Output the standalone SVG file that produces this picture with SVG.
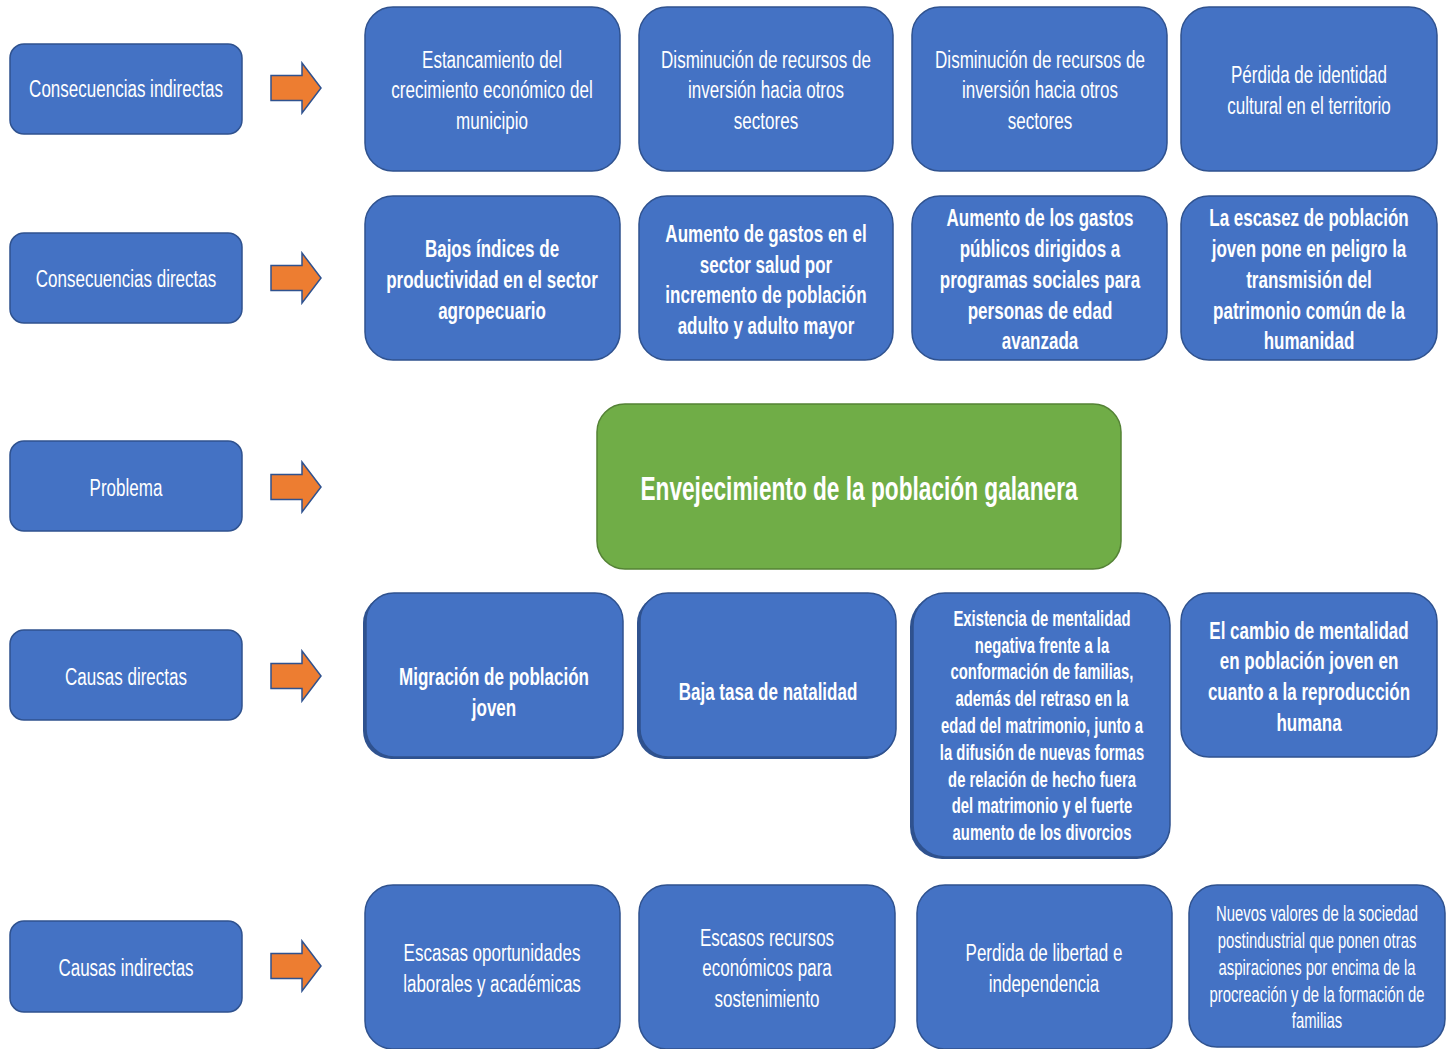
<svg xmlns="http://www.w3.org/2000/svg" width="1449" height="1049" viewBox="0 0 1449 1049">
<style>
.b{fill:#4472C4;stroke:#2F528F;stroke-width:1.5}
.sh{fill:#2F528F}
.g{fill:#70AD47;stroke:#548235;stroke-width:1.5}
.arr{fill:#ED7D31;stroke:#2F528F;stroke-width:1.5}
text{font-family:"Liberation Sans",Arial,sans-serif;fill:#fff;text-anchor:middle}
.lab{font-size:24.3px}
.n{font-size:24.3px}
.nb{font-size:24.3px;font-weight:bold}
.sb{font-size:21.2px;font-weight:bold}
.s{font-size:21.2px}
.t{font-size:32.4px;font-weight:bold}
</style>
<rect width="1449" height="1049" fill="#fff"/>
<g id="connectors">
<path class="arr" d="M271,75.5H302V63L321,88L302,113V100.5H271Z"/>
<path class="arr" d="M271,265.5H302V253L321,278L302,303V290.5H271Z"/>
<path class="arr" d="M271,474.5H302V462L321,487L302,512V499.5H271Z"/>
<path class="arr" d="M271,663.5H302V651L321,676L302,701V688.5H271Z"/>
<path class="arr" d="M271,953.5H302V941L321,966L302,991V978.5H271Z"/>
</g>
<g id="lab-ci"><rect class="b" x="10" y="44" width="232" height="90" rx="14"/><g transform="translate(126,0) scale(0.7,1)"><text class="lab" x="0" y="97.5">Consecuencias indirectas</text></g></g>
<g id="lab-cd"><rect class="b" x="10" y="233" width="232" height="90" rx="14"/><g transform="translate(126,0) scale(0.7,1)"><text class="lab" x="0" y="287.5">Consecuencias directas</text></g></g>
<g id="lab-p"><rect class="b" x="10" y="441" width="232" height="90" rx="14"/><g transform="translate(126,0) scale(0.7,1)"><text class="lab" x="0" y="496.5">Problema</text></g></g>
<g id="lab-cad"><rect class="b" x="10" y="630" width="232" height="90" rx="14"/><g transform="translate(126,0) scale(0.7,1)"><text class="lab" x="0" y="685.5">Causas directas</text></g></g>
<g id="lab-cai"><rect class="b" x="10" y="921" width="232" height="91" rx="14"/><g transform="translate(126,0) scale(0.7,1)"><text class="lab" x="0" y="976.5">Causas indirectas</text></g></g>

<g id="ci1"><rect class="b" x="365" y="7" width="255" height="164" rx="28"/><g transform="translate(492,0) scale(0.7,1)"><text class="n" x="0" y="68.5">Estancamiento del</text><text class="n" x="0" y="98.5">crecimiento económico del</text><text class="n" x="0" y="129.5">municipio</text></g></g>
<g id="ci2"><rect class="b" x="639" y="7" width="254" height="164" rx="28"/><g transform="translate(766,0) scale(0.7,1)"><text class="n" x="0" y="68.5">Disminución de recursos de</text><text class="n" x="0" y="98.5">inversión hacia otros</text><text class="n" x="0" y="129.5">sectores</text></g></g>
<g id="ci3"><rect class="b" x="912" y="7" width="255" height="164" rx="28"/><g transform="translate(1040,0) scale(0.7,1)"><text class="n" x="0" y="68.5">Disminución de recursos de</text><text class="n" x="0" y="98.5">inversión hacia otros</text><text class="n" x="0" y="129.5">sectores</text></g></g>
<g id="ci4"><rect class="b" x="1181" y="7" width="256" height="164" rx="28"/><g transform="translate(1309,0) scale(0.7,1)"><text class="n" x="0" y="83.5">Pérdida de identidad</text><text class="n" x="0" y="114.5">cultural en el territorio</text></g></g>

<g id="cd1"><rect class="b" x="365" y="196" width="255" height="164" rx="28"/><g transform="translate(492,0) scale(0.7,1)"><text class="nb" x="0" y="257.5">Bajos índices de</text><text class="nb" x="0" y="288.5">productividad en el sector</text><text class="nb" x="0" y="319.5">agropecuario</text></g></g>
<g id="cd2"><rect class="b" x="639" y="196" width="254" height="164" rx="28"/><g transform="translate(766,0) scale(0.7,1)"><text class="nb" x="0" y="242.5">Aumento de gastos en el</text><text class="nb" x="0" y="273.5">sector salud por</text><text class="nb" x="0" y="303.5">incremento de población</text><text class="nb" x="0" y="334.5">adulto y adulto mayor</text></g></g>
<g id="cd3"><rect class="b" x="912" y="196" width="255" height="164" rx="28"/><g transform="translate(1040,0) scale(0.7,1)"><text class="nb" x="0" y="226.5">Aumento de los gastos</text><text class="nb" x="0" y="257.5">públicos dirigidos a</text><text class="nb" x="0" y="288.5">programas sociales para</text><text class="nb" x="0" y="319.5">personas de edad</text><text class="nb" x="0" y="349.5">avanzada</text></g></g>
<g id="cd4"><rect class="b" x="1181" y="196" width="256" height="164" rx="28"/><g transform="translate(1309,0) scale(0.7,1)"><text class="nb" x="0" y="226.5">La escasez de población</text><text class="nb" x="0" y="257.5">joven pone en peligro la</text><text class="nb" x="0" y="288.5">transmisión del</text><text class="nb" x="0" y="319.5">patrimonio común de la</text><text class="nb" x="0" y="349.5">humanidad</text></g></g>

<g id="problema"><rect class="g" x="597" y="404" width="524" height="165" rx="28"/><g transform="translate(859,0) scale(0.7,1)"><text class="t" x="0" y="500">Envejecimiento de la población galanera</text></g></g>

<g id="cad1"><rect class="sh" x="363" y="595" width="258" height="164" rx="28"/><rect class="b" x="366" y="593" width="257" height="164" rx="28"/><g transform="translate(494,0) scale(0.7,1)"><text class="nb" x="0" y="685.5">Migración de población</text><text class="nb" x="0" y="716.5">joven</text></g></g>
<g id="cad2"><rect class="sh" x="637" y="595" width="258" height="164" rx="28"/><rect class="b" x="640" y="593" width="256" height="164" rx="28"/><g transform="translate(768,0) scale(0.7,1)"><text class="nb" x="0" y="700.5">Baja tasa de natalidad</text></g></g>
<g id="cad3"><rect class="sh" x="910" y="595" width="259" height="264" rx="32"/><rect class="b" x="913" y="593" width="257" height="264" rx="32"/><g transform="translate(1042,0) scale(0.7,1)"><text class="sb" x="0" y="626.5">Existencia de mentalidad</text><text class="sb" x="0" y="653.5">negativa frente a la</text><text class="sb" x="0" y="679.5">conformación de familias,</text><text class="sb" x="0" y="706.5">además del retraso en la</text><text class="sb" x="0" y="733.5">edad del matrimonio, junto a</text><text class="sb" x="0" y="760.5">la difusión de nuevas formas</text><text class="sb" x="0" y="787.5">de relación de hecho fuera</text><text class="sb" x="0" y="813.5">del matrimonio y el fuerte</text><text class="sb" x="0" y="840.5">aumento de los divorcios</text></g></g>
<g id="cad4"><rect class="b" x="1181" y="593" width="256" height="164" rx="28"/><g transform="translate(1309,0) scale(0.7,1)"><text class="nb" x="0" y="639.5">El cambio de mentalidad</text><text class="nb" x="0" y="669.5">en población joven en</text><text class="nb" x="0" y="700.5">cuanto a la reproducción</text><text class="nb" x="0" y="731.5">humana</text></g></g>

<g id="cai1"><rect class="b" x="365" y="885" width="255" height="164" rx="28"/><g transform="translate(492,0) scale(0.7,1)"><text class="n" x="0" y="961.5">Escasas oportunidades</text><text class="n" x="0" y="992.5">laborales y académicas</text></g></g>
<g id="cai2"><rect class="b" x="639" y="885" width="256" height="164" rx="28"/><g transform="translate(767,0) scale(0.7,1)"><text class="n" x="0" y="946.5">Escasos recursos</text><text class="n" x="0" y="976.5">económicos para</text><text class="n" x="0" y="1007.5">sostenimiento</text></g></g>
<g id="cai3"><rect class="b" x="917" y="885" width="255" height="164" rx="28"/><g transform="translate(1044,0) scale(0.7,1)"><text class="n" x="0" y="961.5">Perdida de libertad e</text><text class="n" x="0" y="992.5">independencia</text></g></g>
<g id="cai4"><rect class="b" x="1189" y="885" width="256" height="162" rx="28"/><g transform="translate(1317,0) scale(0.7,1)"><text class="s" x="0" y="921.5">Nuevos valores de la sociedad</text><text class="s" x="0" y="948.5">postindustrial que ponen otras</text><text class="s" x="0" y="975.5">aspiraciones por encima de la</text><text class="s" x="0" y="1002.5">procreación y de la formación de</text><text class="s" x="0" y="1028.5">familias</text></g></g>
</svg>
